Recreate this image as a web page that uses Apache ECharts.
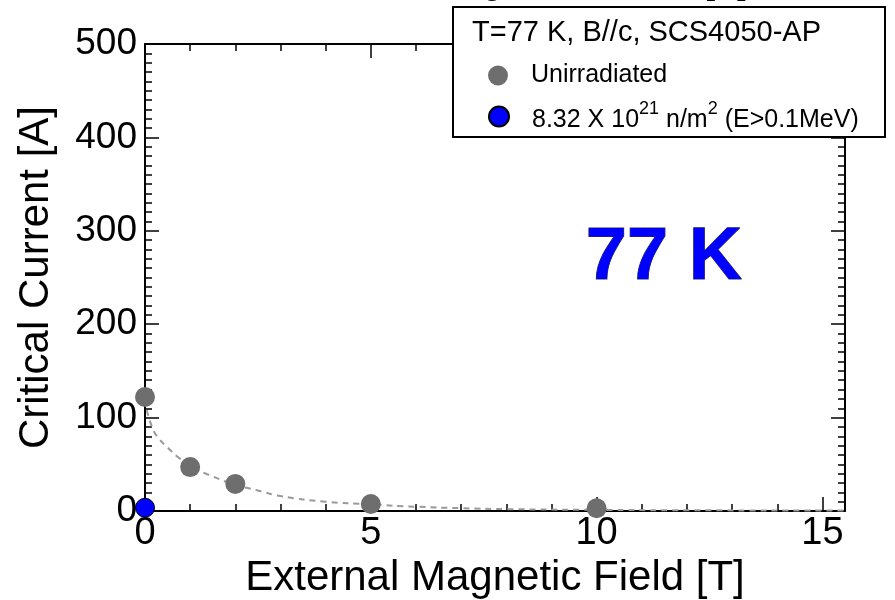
<!DOCTYPE html>
<html>
<head>
<meta charset="utf-8">
<script src="https://cdn.jsdelivr.net/npm/echarts@6/dist/echarts.min.js"></script>
<style>
html,body{margin:0;padding:0;background:#fff;}
#chart{width:895px;height:600px;}
</style>
</head>
<body>
<div id="chart"></div>
<script>
// ---- data ----
var fieldUnirr = [0, 1, 2, 5, 10];
var icUnirr = [122, 47, 29, 7.5, 3];
var fieldIrr = [0];
var icIrr = [3.5];
var fitField = [0.04, 0.18, 0.3, 0.5, 0.75, 1, 1.5, 2, 2.5, 3, 4, 5, 6, 7, 8, 10, 12, 15.5];
var fitIc = [108, 87, 78, 68, 57, 48, 37, 28, 22, 16, 10, 7, 4.6, 3, 2, 1.2, 0.8, 0.4];
var xTicks = [0, 5, 10, 15];
var yTicks = [0, 100, 200, 300, 400, 500];
var seriesNames = ['Unirradiated', '8.32 X 10^21 n/m^2 (E>0.1MeV)'];
var legendTitle = 'T=77 K, B//c, SCS4050-AP';
var tempLabel = '77 K';
var xName = 'External Magnetic Field [T]';
var yName = 'Critical Current [A]';
var topTitle = 'Change in Critical Ic [A]';

function zip(a, b) { return a.map(function (v, i) { return [v, b[i]]; }); }

var FONT = 'Arial, "Liberation Sans", sans-serif';
var chart = echarts.init(document.getElementById('chart'), null, {renderer: 'canvas'});

var lineSt = {color: '#000', width: 2};
var tickSt = {color: '#000', width: 1.5};

function xMajor(pos, labels) {
  return {
    type: 'value', gridIndex: 0, position: pos, min: 0, max: 15.5, interval: 5,
    axisLine: {show: true, onZero: false, lineStyle: lineSt},
    axisTick: {show: true, inside: true, length: 14, lineStyle: tickSt},
    axisLabel: labels ? {
      show: true, fontSize: 38, color: '#000', fontFamily: FONT, margin: 4,
      formatter: function (v) { return xTicks.indexOf(v) >= 0 ? String(v) : ''; }
    } : {show: false},
    splitLine: {show: false},
    name: labels ? xName : '',
    nameLocation: 'middle', nameGap: 43,
    nameTextStyle: {fontSize: 42, color: '#000', fontFamily: FONT}
  };
}
function xMinor(pos) {
  return {
    type: 'value', gridIndex: 1, position: pos, min: 0, max: 15.5, interval: 1,
    axisLine: {show: false, onZero: false},
    axisTick: {show: true, inside: true, length: 7, lineStyle: tickSt},
    axisLabel: {show: false},
    splitLine: {show: false}
  };
}
function yMajor(pos, labels) {
  return {
    type: 'value', gridIndex: 0, position: pos, min: 0, max: 500, interval: 100,
    axisLine: {show: true, onZero: false, lineStyle: lineSt},
    axisTick: {show: true, inside: true, length: 14, lineStyle: tickSt},
    minorTick: {show: true, splitNumber: 10, length: 7, lineStyle: tickSt},
    axisLabel: labels ? {
      show: true, fontSize: 37, color: '#000', fontFamily: FONT, margin: 8,
      formatter: function (v) { return yTicks.indexOf(v) >= 0 ? String(v) : ''; }
    } : {show: false},
    splitLine: {show: false},
    minorSplitLine: {show: false},
    name: labels ? yName : '',
    nameLocation: 'middle', nameGap: 88, nameRotate: 90,
    nameTextStyle: {fontSize: 42, color: '#000', fontFamily: FONT}
  };
}

var option = {
  backgroundColor: '#ffffff',
  animation: false,
  textStyle: {fontFamily: FONT},
  grid: [
    {left: 145, right: 50, top: 44, bottom: 89, containLabel: false, outerBoundsMode: 'none'},
    {left: 145, right: 50, top: 44, bottom: 89, containLabel: false, outerBoundsMode: 'none'}
  ],
  xAxis: [xMajor('bottom', true), xMajor('top', false), xMinor('bottom'), xMinor('top')],
  yAxis: [yMajor('left', true), yMajor('right', false),
          {type: 'value', gridIndex: 1, min: 0, max: 500, show: false}],
  legend: [
    {
      data: [seriesNames[0]], orient: 'vertical', left: 488, top: 63, padding: 0,
      itemWidth: 20, itemHeight: 20, icon: 'circle', z: 6,
      formatter: function (n) { return '{sp|}{n|' + n + '}'; },
      textStyle: {color: '#000', fontSize: 25, fontFamily: FONT,
        rich: {sp: {width: 18}, n: {fontSize: 25, color: '#000', fontFamily: FONT}}}
    },
    {
      data: [seriesNames[1]], orient: 'vertical', left: 488, top: 100, padding: 0,
      itemWidth: 20, itemHeight: 20, icon: 'circle', z: 6,
      formatter: function () {
        return '{sp|}{n|8.32 X 10}{s|21}{n| n/m}{s|2}{n| (E>0.1MeV)}';
      },
      textStyle: {color: '#000', fontSize: 25, fontFamily: FONT, lineHeight: 33,
        rich: {
          sp: {width: 18, lineHeight: 33},
          n: {fontSize: 25, lineHeight: 25, verticalAlign: 'bottom', color: '#000', fontFamily: FONT},
          s: {fontSize: 18, lineHeight: 18, verticalAlign: 'top', color: '#000', fontFamily: FONT}
        }}
    }
  ],
  graphic: [
    {type: 'text', x: 747, y: 2, z: 1,
     style: {text: topTitle, font: 'bold 30px ' + FONT, fill: '#000', align: 'right', verticalAlign: 'bottom'}},
    {type: 'rect', z: 3, shape: {x: 453, y: 7, width: 432, height: 130},
     style: {fill: '#fff', stroke: '#000', lineWidth: 2}},
    {type: 'text', x: 472, y: 33, z: 5,
     style: {text: legendTitle, font: '29px ' + FONT, fill: '#000', align: 'left', verticalAlign: 'middle'}},
    {type: 'text', x: 664, y: 259, z: 5,
     style: {text: tempLabel, font: 'bold 74px ' + FONT, fill: '#0000ff', stroke: '#333', lineWidth: 1,
       align: 'center', verticalAlign: 'middle'}}
  ],
  series: [
    {
      type: 'line', name: 'fit', xAxisIndex: 0, yAxisIndex: 0, data: zip(fitField, fitIc),
      smooth: true, showSymbol: false, symbol: 'none', silent: true, clip: true,
      lineStyle: {type: [6, 5], color: '#9a9a9a', width: 2}, z: 2
    },
    {
      type: 'scatter', name: seriesNames[0], xAxisIndex: 0, yAxisIndex: 0,
      data: zip(fieldUnirr, icUnirr), symbol: 'circle', symbolSize: 20, clip: false,
      itemStyle: {color: '#6e6e6e', opacity: 1}, z: 3
    },
    {
      type: 'scatter', name: seriesNames[1], xAxisIndex: 0, yAxisIndex: 0,
      data: zip(fieldIrr, icIrr), symbol: 'circle', symbolSize: 19, clip: false,
      itemStyle: {color: '#0000ff', borderColor: '#000', borderWidth: 1, opacity: 1}, z: 4
    }
  ]
};
chart.setOption(option);
</script>
</body>
</html>
